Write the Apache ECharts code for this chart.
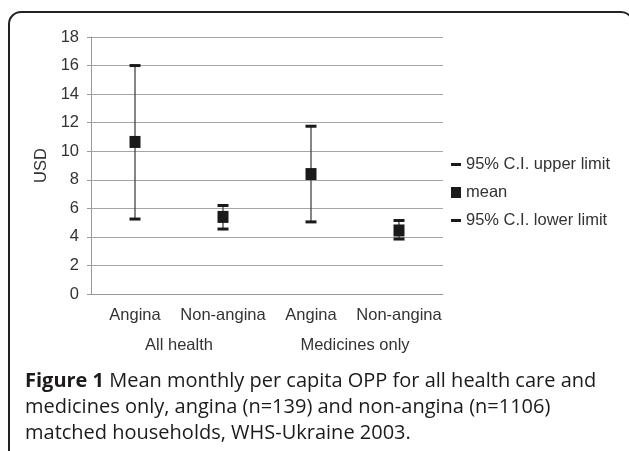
<!DOCTYPE html>
<html>
<head>
<meta charset="utf-8">
<script src="https://cdn.jsdelivr.net/npm/echarts@6/dist/echarts.min.js"></script>
<style>
  html, body { margin: 0; padding: 0; background: #fff; }
  #chart { width: 629px; height: 451px; }
</style>
</head>
<body>
<div id="chart"></div>
<script>
// data
var subgroups = ['Angina', 'Non-angina', 'Angina', 'Non-angina'];
var groups = ['All health', 'Medicines only'];
var upperLimit = [16.0, 6.2, 11.75, 5.15];
var meanValue = [10.65, 5.4, 8.4, 4.45];
var lowerLimit = [5.25, 4.55, 5.05, 3.85];
var yTicks = [0, 2, 4, 6, 8, 10, 12, 14, 16, 18];

var labelFont = '"Liberation Sans", Arial, sans-serif';
var capFont = '"Open Sans", "Noto Sans", sans-serif';
var fs = 16.5;
var dashIcon = 'path://M0,0L0,0M0,4L10,4L10,7L0,7ZM10,11L10,11';

var myChart = echarts.init(document.getElementById('chart'));

var errorLines = subgroups.map(function (c, i) {
  return [i, lowerLimit[i], upperLimit[i]];
});

var option = {
  animation: false,
  textStyle: { fontFamily: labelFont },
  grid: { left: 91, right: 186, top: 37, bottom: 157 },
  legend: {
    orient: 'vertical',
    left: 451,
    top: 156,
    padding: 0,
    itemWidth: 10,
    itemHeight: 11,
    itemGap: 11,
    textStyle: { fontSize: fs, color: '#333', fontFamily: labelFont },
    data: [
      { name: '95% C.I. upper limit', icon: dashIcon },
      { name: 'mean', icon: 'rect' },
      { name: '95% C.I. lower limit', icon: dashIcon }
    ]
  },
  xAxis: [
    {
      type: 'category',
      data: subgroups,
      position: 'bottom',
      axisLine: { lineStyle: { color: '#999', width: 1 } },
      axisTick: { length: 29, interval: 0, lineStyle: { color: '#999' } },
      axisLabel: { margin: 13, fontSize: fs, color: '#333', interval: 0 },
      splitLine: { show: false }
    },
    {
      type: 'category',
      data: groups,
      position: 'bottom',
      axisLine: { show: false },
      axisTick: { length: 61, interval: 0, lineStyle: { color: '#999' } },
      axisLabel: { margin: 43, fontSize: fs, color: '#333', interval: 0 },
      splitLine: { show: false }
    }
  ],
  yAxis: {
    type: 'value',
    min: 0,
    max: 18,
    interval: 2,
    name: 'USD',
    nameLocation: 'middle',
    nameGap: 37,
    nameTextStyle: { fontSize: fs, color: '#333' },
    axisLine: { show: true, lineStyle: { color: '#999' } },
    axisTick: { show: true, length: 4, lineStyle: { color: '#999' } },
    axisLabel: {
      margin: 12, fontSize: fs, color: '#333',
      formatter: function (v) { return yTicks.indexOf(v) >= 0 ? String(v) : ''; }
    },
    splitLine: { lineStyle: { color: '#a6a6a6', width: 1 } }
  },
  series: [
    {
      type: 'custom',
      name: 'ci',
      z: 1,
      data: errorLines,
      renderItem: function (params, api) {
        var lo = api.coord([api.value(0), api.value(1)]);
        var hi = api.coord([api.value(0), api.value(2)]);
        return {
          type: 'line',
          shape: { x1: lo[0], y1: lo[1], x2: hi[0], y2: hi[1] },
          style: { stroke: '#444', lineWidth: 1.3 }
        };
      }
    },
    {
      type: 'scatter',
      name: '95% C.I. upper limit',
      z: 3,
      symbol: 'rect',
      symbolSize: [11, 3],
      itemStyle: { color: '#1a1a1a', opacity: 1 },
      data: upperLimit
    },
    {
      type: 'scatter',
      name: 'mean',
      z: 3,
      symbol: 'rect',
      symbolSize: [11, 12],
      itemStyle: { color: '#1a1a1a', opacity: 1 },
      data: meanValue
    },
    {
      type: 'scatter',
      name: '95% C.I. lower limit',
      z: 3,
      symbol: 'rect',
      symbolSize: [11, 3],
      itemStyle: { color: '#1a1a1a', opacity: 1 },
      data: lowerLimit
    }
  ],
  graphic: [
    {
      type: 'rect',
      shape: { x: 9, y: 12, width: 624, height: 460, r: 12 },
      style: { fill: 'none', stroke: '#222', lineWidth: 2 },
      silent: true
    },
    {
      type: 'text',
      left: 25,
      top: 368,
      style: {
        text: '{b|Figure 1} Mean monthly per capita OPP for all health care and\nmedicines only, angina (n=139) and non-angina (n=1106)\nmatched households, WHS-Ukraine 2003.',
        font: '20px ' + capFont,
        fill: '#1d1a1b',
        lineHeight: 26,
        rich: {
          b: { fontWeight: 'bold', fontSize: 20, fontFamily: capFont, fill: '#1d1a1b', lineHeight: 26 }
        }
      }
    }
  ]
};

myChart.setOption(option);
</script>
</body>
</html>
